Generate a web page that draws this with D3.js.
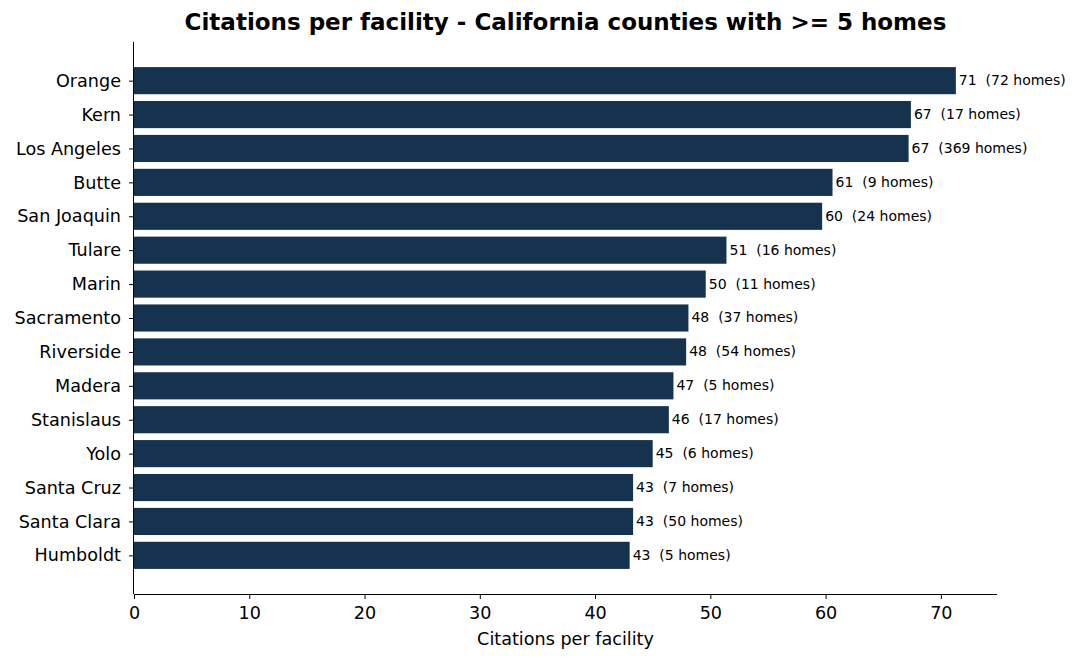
<!DOCTYPE html>
<html>
<head>
<meta charset="utf-8">
<script src="https://cdn.jsdelivr.net/npm/d3@7"></script>
<style>
  body { margin: 0; background: #fff; }
  svg { font-family: "DejaVu Sans", sans-serif; }
</style>
</head>
<body>
<div id="chart"></div>
<script>
// county names, top to bottom
var counties = ["Orange", "Kern", "Los Angeles", "Butte", "San Joaquin", "Tulare", "Marin",
                "Sacramento", "Riverside", "Madera", "Stanislaus", "Yolo", "Santa Cruz",
                "Santa Clara", "Humboldt"];
var citations = [71.3, 67.4, 67.2, 60.6, 59.7, 51.4, 49.6, 48.1, 47.9, 46.8, 46.4, 45.0, 43.3, 43.3, 43.0];
// number of homes per county
var homes = [72, 17, 369, 9, 24, 16, 11, 37, 54, 5, 17, 6, 7, 50, 5];
var xTicks = [0, 10, 20, 30, 40, 50, 60, 70];

var width = 1078, height = 663;
var margin = {top: 42, right: 81, bottom: 69, left: 134};
var barColor = "#15324f";
var tickFont = 17.6;

var svg = d3.select("#chart").append("svg")
      .attr("width", width)
      .attr("height", height);

var x = d3.scaleLinear()
      .domain([0, 74.87])
      .range([margin.left, width - margin.right]);

// matplotlib-like band layout: bars 0.8 wide, 5% margins
var n = counties.length;
var yPos = d3.scaleLinear()
      .domain([-0.4 - 0.74, n - 1 + 0.4 + 0.74])
      .range([margin.top, height - margin.bottom]);
var step = yPos(1) - yPos(0);

var data = counties.map(function (c, i) {
    return {county: c, value: citations[i], homes: homes[i], i: i};
});

svg.selectAll("rect.bar")
    .data(data)
  .enter().append("rect")
    .attr("class", "bar")
    .attr("x", x(0))
    .attr("y", function (d) { return yPos(d.i) - step * 0.4; })
    .attr("width", function (d) { return x(d.value) - x(0); })
    .attr("height", step * 0.8)
    .attr("fill", barColor);

// value labels
svg.selectAll("text.val")
    .data(data)
  .enter().append("text")
    .attr("class", "val")
    .attr("x", function (d) { return x(d.value) + 3; })
    .attr("y", function (d) { return yPos(d.i); })
    .attr("dy", "0.32em")
    .attr("font-size", 14)
    .attr("fill", "#000")
    .style("white-space", "pre")
    .text(function (d) { return Math.round(d.value) + "  (" + d.homes + " homes)"; });

// x axis
var xAxis = d3.axisBottom(x).tickValues(xTicks).tickSize(5).tickPadding(8);
var gx = svg.append("g")
    .attr("transform", "translate(0," + (height - margin.bottom) + ")")
    .call(xAxis);
gx.selectAll("text").attr("font-size", tickFont).attr("font-family", "DejaVu Sans").attr("fill", "#000");
gx.selectAll("line").attr("stroke", "#000");
gx.select(".domain").attr("stroke", "#000").attr("d", "M" + margin.left + ",0.5H" + (width - margin.right));

// y axis
var y = d3.scaleOrdinal().domain(counties).range(counties.map(function (c, i) { return yPos(i); }));
var yAxis = d3.axisLeft(y).tickSize(5).tickPadding(8);
var gy = svg.append("g")
    .attr("transform", "translate(" + margin.left + ",0)")
    .call(yAxis);
gy.selectAll("text").attr("font-size", tickFont).attr("font-family", "DejaVu Sans").attr("fill", "#000");
gy.selectAll("line").attr("stroke", "#000");
gy.select(".domain").attr("stroke", "#000").attr("d", "M-0.5," + margin.top + "V" + (height - margin.bottom));

// title
svg.append("text")
    .attr("x", (margin.left + width - margin.right) / 2)
    .attr("y", 30)
    .attr("text-anchor", "middle")
    .attr("font-size", 23)
    .attr("font-weight", "bold")
    .text("Citations per facility - California counties with >= 5 homes");

// x label
svg.append("text")
    .attr("x", (margin.left + width - margin.right) / 2)
    .attr("y", 645)
    .attr("text-anchor", "middle")
    .attr("font-size", tickFont)
    .text("Citations per facility");
</script>
</body>
</html>
